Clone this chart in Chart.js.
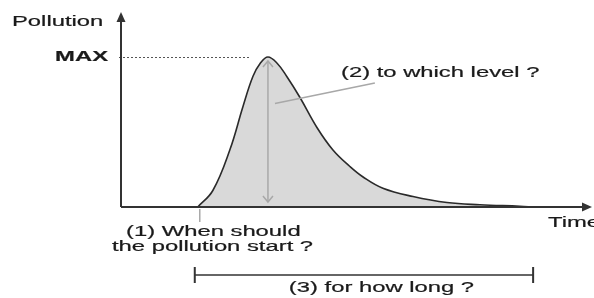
<!DOCTYPE html>
<html>
<head>
<meta charset="utf-8">
<script src="https://cdn.jsdelivr.net/npm/chart.js@4.4.1/dist/chart.umd.min.js"></script>
<style>
  html, body { margin: 0; padding: 0; background: #fff; }
  #wrap { width: 594px; height: 298px; }
</style>
</head>
<body>
<div id="wrap"><canvas id="c" width="594" height="298"></canvas></div>
<script>
// pollution pulse: time (0..100) vs level (peak = 100 = MAX)
const times  = [16.3, 19.5, 23.1, 25.9, 28.0, 29.6, 31.2, 33.1, 35.2, 38.0, 41.6, 45.0, 48.6, 51.4, 55.6, 62.0, 69.2, 76.2, 84.7, 87.5];
const levels = [0,    11,   38,   67,   87,   96,   100,  96,   87,   73,   53,   38,   27,   20,   12.5, 7,    3,    1.5,  0.5,  0];

const axisTitles = ['Pollution', 'Time'];
const maxLabel = 'MAX';
const notes = ['(1) When should', 'the pollution start ?', '(2) to which level ?', '(3) for how long ?'];

const INK = '#1a1a1a';
const AXIS = '#333';
const GUIDE = '#a8a8a8';
const FONT = '14px "Liberation Sans", Arial, sans-serif';
const FONT_B = 'bold 14px "Liberation Sans", Arial, sans-serif';
const SX = 1.7; // the original figure is stretched horizontally

function wideText(ctx, text, x, y, font, align) {
  ctx.save();
  ctx.font = font;
  ctx.textBaseline = 'middle';
  ctx.fillStyle = INK;
  ctx.strokeStyle = INK;
  ctx.lineWidth = 0.2;
  const w = ctx.measureText(text).width * SX;
  let x0 = x;
  if (align === 'center') x0 = x - w / 2;
  else if (align === 'right') x0 = x - w;
  ctx.translate(x0, y);
  ctx.scale(SX, 1);
  ctx.fillText(text, 0, 0);
  ctx.strokeText(text, 0, 0);
  ctx.restore();
}

function arrowHead(ctx, x, y, dir, len, half, filled) {
  // dir: 'up' | 'down' | 'right'
  ctx.beginPath();
  if (dir === 'up') { ctx.moveTo(x - half, y + len); ctx.lineTo(x, y); ctx.lineTo(x + half, y + len); }
  if (dir === 'down') { ctx.moveTo(x - half, y - len); ctx.lineTo(x, y); ctx.lineTo(x + half, y - len); }
  if (dir === 'right') { ctx.moveTo(x - len, y - half); ctx.lineTo(x, y); ctx.lineTo(x - len, y + half); }
  if (filled) { ctx.closePath(); ctx.fill(); } else ctx.stroke();
}

const sketch = {
  id: 'sketch',
  beforeDraw(chart) {
    const { ctx } = chart;
    ctx.save();
    ctx.fillStyle = '#fff';
    ctx.fillRect(0, 0, chart.width, chart.height);
    ctx.restore();
  },
  afterDatasetsDraw(chart) {
    const { ctx, chartArea: a, scales: { x, y } } = chart;
    const peakIdx = levels.indexOf(Math.max(...levels));
    const px = x.getPixelForValue(times[peakIdx]);
    const py = y.getPixelForValue(levels[peakIdx]);
    const base = y.getPixelForValue(0);
    const x0 = x.getPixelForValue(times[0]);
    const x1 = x.getPixelForValue(times[times.length - 1]);

    ctx.save();
    // MAX dotted guide
    ctx.strokeStyle = '#555';
    ctx.lineWidth = 1;
    ctx.setLineDash([2, 2]);
    ctx.beginPath();
    ctx.moveTo(a.left - 2, py + 0.5);
    ctx.lineTo(px - 17, py + 0.5);
    ctx.stroke();
    ctx.setLineDash([]);

    // double arrow under the peak
    ctx.strokeStyle = GUIDE;
    ctx.lineWidth = 1.5;
    ctx.beginPath();
    ctx.moveTo(px, py + 4);
    ctx.lineTo(px, base - 5);
    ctx.stroke();
    arrowHead(ctx, px, py + 4, 'up', 6, 5, false);
    arrowHead(ctx, px, base - 5, 'down', 6, 5, false);

    // leader line to "(2)"
    ctx.beginPath();
    ctx.moveTo(px + 7, y.getPixelForValue(69));
    ctx.lineTo(x.getPixelForValue(53.9), y.getPixelForValue(82.7));
    ctx.stroke();

    // tick under the start
    ctx.beginPath();
    ctx.moveTo(x0 + 2, base + 2);
    ctx.lineTo(x0 + 2, base + 15);
    ctx.stroke();

    // axes with arrows
    ctx.strokeStyle = AXIS;
    ctx.fillStyle = AXIS;
    ctx.lineWidth = 2;
    ctx.beginPath();
    ctx.moveTo(a.left, base);
    ctx.lineTo(a.left, a.top + 8);
    ctx.moveTo(a.left, base);
    ctx.lineTo(a.right - 8, base);
    ctx.stroke();
    arrowHead(ctx, a.left, a.top, 'up', 10, 4.5, true);
    arrowHead(ctx, a.right, base, 'right', 10, 4.5, true);

    // duration bracket
    const by = base + 68;
    ctx.lineWidth = 1.5;
    ctx.beginPath();
    ctx.moveTo(x0 - 3, by);
    ctx.lineTo(x1, by);
    ctx.stroke();
    ctx.lineWidth = 2;
    ctx.beginPath();
    ctx.moveTo(x0 - 3, by - 8);
    ctx.lineTo(x0 - 3, by + 8);
    ctx.moveTo(x1, by - 8);
    ctx.lineTo(x1, by + 8);
    ctx.stroke();
    ctx.restore();

    // texts
    wideText(ctx, axisTitles[0], 12, a.top + 10, FONT);
    wideText(ctx, axisTitles[1], 548, base + 16, FONT);
    wideText(ctx, maxLabel, a.left - 13, py, FONT_B, 'right');
    wideText(ctx, notes[0], 126, base + 25, FONT);
    wideText(ctx, notes[1], 112, base + 40, FONT);
    wideText(ctx, notes[2], 341, a.top + 61, FONT);
    wideText(ctx, notes[3], (x0 + x1) / 2 + 16, by + 13, FONT, 'center');
  }
};

new Chart(document.getElementById('c'), {
  type: 'line',
  data: {
    datasets: [{
      data: times.map((t, i) => ({ x: t, y: levels[i] })),
      borderColor: '#2a2a2a',
      borderWidth: 1.6,
      backgroundColor: '#d9d9d9',
      fill: 'origin',
      pointRadius: 0,
      tension: 0.4,
    }],
  },
  options: {
    responsive: false,
    animation: false,
    devicePixelRatio: 1,
    layout: { padding: { left: 121, right: 2, top: 12, bottom: 91 } },
    plugins: { legend: { display: false }, tooltip: { enabled: false } },
    scales: {
      x: { type: 'linear', min: 0, max: 100, display: false },
      y: { min: 0, max: 130, display: false },
    },
  },
  plugins: [sketch],
});
</script>
</body>
</html>
